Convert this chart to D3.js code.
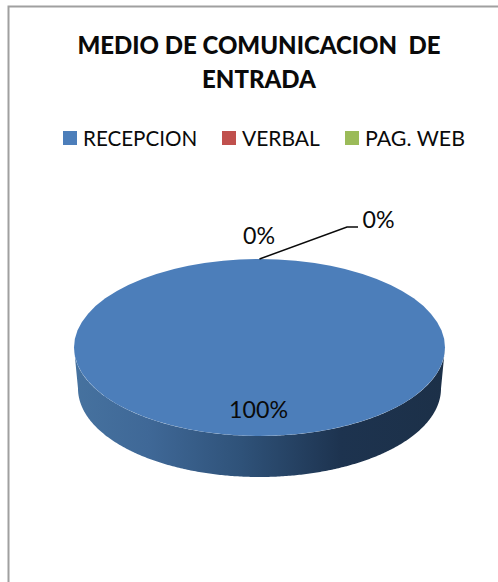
<!DOCTYPE html>
<html>
<head>
<meta charset="utf-8">
<script src="https://cdn.jsdelivr.net/npm/d3@7/dist/d3.min.js"></script>
<style>
    html, body { margin: 0; padding: 0; background: #fff; overflow: hidden; }
    svg { display: block; }
    text { font-family: Lato, "Noto Sans", sans-serif; fill: #0a0a0a; }
</style>
</head>
<body>
<svg></svg>
<script>
const categories = ["RECEPCION", "VERBAL", "PAG. WEB"]
const values = [100, 0, 0]
const colors = ["#4c7eba", "#c0504d", "#9bbb59"]
const titleLines = ["MEDIO DE COMUNICACION  DE", "ENTRADA"]

const w = 498
const h = 582
const cx = 259.5
const cy = 347.5
const rx = 185.5
const ry = 88.5
const depth = 41
const bottomInset = 4

const svg = d3.select("svg")
    .attr("width", w)
    .attr("height", h)

//Chart border, only left and top are in the picture
svg.append("path")
    .attr("d", `M8.5,${h} V6.5 H${w}`)
    .attr("fill", "none")
    .attr("stroke", "#a0a0a0")
    .attr("stroke-width", 2)

//Title
svg.append("g")
    .selectAll("text")
    .data(titleLines)
    .enter()
    .append("text")
    .attr("x", 259)
    .attr("y", (d, i) => 54 + i * 34)
    .attr("text-anchor", "middle")
    .attr("font-size", 24)
    .attr("font-weight", 900)
    .style("white-space", "pre")
    .text(d => d)

//Legend
const legendX = [63, 222, 345]
const legendSize = [20.6, 21, 21.4]
const legend = svg.append("g")
    .selectAll("g")
    .data(categories)
    .enter()
    .append("g")
    .attr("transform", (d, i) => `translate(${legendX[i]}, 131)`)

legend.append("rect")
    .attr("width", 14)
    .attr("height", 14)
    .attr("fill", (d, i) => colors[i])

legend.append("text")
    .attr("x", 20)
    .attr("y", 14.5)
    .attr("font-size", (d, i) => legendSize[i])
    .text(d => d)

//Pie
const pie = d3.pie().sort(null)
const slices = pie(values)

const defs = svg.append("defs")
const sideGradient = defs.append("linearGradient")
    .attr("id", "side")
    .attr("x1", 0).attr("x2", 1)
    .attr("y1", 0).attr("y2", 0)

sideGradient.selectAll("stop")
    .data([[0, "#46729f"], [0.2, "#3f6897"], [0.45, "#2f5279"], [0.72, "#1d334f"], [1, "#1c3048"]])
    .enter()
    .append("stop")
    .attr("offset", d => d[0])
    .attr("stop-color", d => d[1])

//Side wall, front half of each slice only. The bottom edge is a bit narrower
const edgePoint = a => [cx + rx * Math.sin(a), cy - ry * Math.cos(a)]
const frontStart = Math.PI / 2
const frontEnd = Math.PI * 3 / 2

const sideArea = d3.area()
    .x0(a => edgePoint(a)[0])
    .y0(a => edgePoint(a)[1])
    .x1(a => cx + (rx - bottomInset) * Math.sin(a))
    .y1(a => edgePoint(a)[1] + depth)

svg.append("g")
    .selectAll("path")
    .data(slices.filter(d => d.value > 0))
    .enter()
    .append("path")
    .attr("fill", "url(#side)")
    .attr("d", d => {
        const a0 = Math.max(d.startAngle, frontStart)
        const a1 = Math.min(d.endAngle, frontEnd)
        return sideArea(d3.range(a0, a1, 0.01).concat([a1]))
    })

//Top face
const arc = d3.arc().innerRadius(0).outerRadius(rx)

svg.append("g")
    .attr("transform", `translate(${cx}, ${cy}) scale(1, ${ry / rx})`)
    .selectAll("path")
    .data(slices)
    .enter()
    .append("path")
    .attr("d", arc)
    .attr("fill", (d, i) => colors[i])

//Leader line for the last label
const leaderStart = edgePoint(slices[2].startAngle)
svg.append("polyline")
    .attr("points", [leaderStart, [347, 227], [358, 227]].join(" "))
    .attr("fill", "none")
    .attr("stroke", "#0a0a0a")
    .attr("stroke-width", 1.5)

//Data labels
const labelPos = [[258.5, 418], [259, 244], [378.5, 228]]
svg.append("g")
    .selectAll("text")
    .data(values)
    .enter()
    .append("text")
    .attr("x", (d, i) => labelPos[i][0])
    .attr("y", (d, i) => labelPos[i][1])
    .attr("text-anchor", "middle")
    .attr("font-size", 23.2)
    .text(d => `${d}%`)
</script>
</body>
</html>
